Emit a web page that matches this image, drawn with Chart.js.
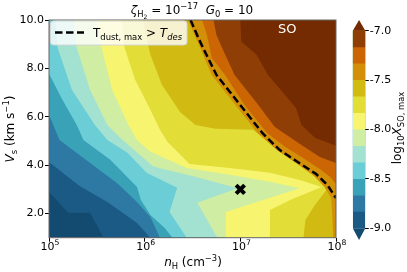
<!DOCTYPE html>
<html>
<head>
<meta charset="utf-8">
<script src="https://cdn.jsdelivr.net/npm/chart.js"></script>
<style>
  body { margin: 0; background: #fff; }
  .wrap { position: relative; width: 407px; height: 272px; }
  canvas { position: absolute; top: 0; }
</style>
</head>
<body>
<div class="wrap">
  <canvas id="map" width="407" height="272" style="left:0"></canvas>
  <canvas id="cbar" width="67" height="272" style="left:340px"></canvas>
</div>
<script>
const FONT = '"DejaVu Sans", sans-serif';

// contour levels of log10 X(SO,max); fills[0] is below -9, fills[13] above -7
const levels = [-9.0, -8.833, -8.667, -8.5, -8.333, -8.167, -8.0, -7.833, -7.667, -7.5, -7.333, -7.167, -7.0];
const fills = ['#134a70', '#1c5a86', '#2d79a4', '#3aa2b6', '#6bcdd6', '#a3e2d1', '#cfeda3',
               '#f7f56f', '#e2dd37', '#d1bb13', '#d48f09', '#cc6605', '#8f3e06', '#742b01'];

// contour lines, points are [log10 nH, Vs]
const c900 = [[5.00,2.90],[5.20,2.03],[5.43,2.03],[5.57,1.00]];
const c883 = [[5.00,4.13],[5.32,3.14],[5.61,2.48],[5.92,1.61],[6.06,1.00]];
const c867 = [[5.00,6.08],[5.11,5.04],[5.43,4.09],[5.71,3.26],[5.92,2.48],[6.06,1.86],[6.16,1.00]];
const c850 = [[5.00,7.78],[5.14,6.70],[5.29,5.66],[5.36,5.04],[5.64,4.22],[5.92,3.10],[5.96,2.56],[6.06,1.94],[6.21,1.40],[6.29,1.00]];
const c833 = [[5.07,10],[5.09,8.85],[5.24,7.11],[5.48,5.66],[5.61,5.04],[5.82,4.51],[6.02,3.68],[6.34,3.06],[6.26,2.06],[6.44,1.00]];
const c817 = [[5.26,10],[5.29,8.85],[5.43,7.11],[5.61,5.66],[5.77,5.04],[6.09,3.94],[6.58,3.47],[6.97,3.04],[6.55,2.44],[6.76,1.00]];
const c800 = [[5.50,10],[5.55,8.85],[5.66,7.11],[5.83,5.66],[5.92,5.04],[6.06,4.55],[6.44,3.88],[6.89,3.60],[7.31,3.31],[7.62,3.04],[6.85,2.06],[6.85,1.00]];
const c783 = [[5.76,10],[5.79,8.85],[5.90,7.53],[6.06,6.29],[6.16,5.46],[6.24,4.96],[6.47,4.05],[6.89,3.88],[7.31,3.68],[7.62,3.39],[7.85,3.10],[7.52,2.56],[7.31,2.15],[7.31,1.00]];
const c767 = [[5.98,10],[6.06,8.56],[6.18,7.32],[6.37,6.20],[6.53,5.66],[6.74,5.50],[7.13,5.46],[7.34,4.84],[7.62,4.01],[7.86,3.31],[7.90,2.97],[7.78,2.35],[7.68,1.73],[7.66,1.00]];
const c750 = [[6.45,10],[6.58,8.85],[6.70,7.73],[6.93,6.58],[7.18,5.33],[7.38,4.63],[7.58,4.09],[7.77,3.55],[7.88,3.10],[7.95,2.64],[7.96,1.94],[7.97,1.00]];
const c733 = [[6.60,10],[6.65,9.39],[6.68,8.85],[6.70,8.44],[6.84,7.73],[7.05,6.45],[7.28,5.33],[7.47,4.75],[7.64,4.34],[7.83,3.84],[7.94,3.51],[8.00,3.22]];
const c717 = [[6.72,10],[6.75,9.39],[6.81,8.84],[6.94,7.73],[7.18,6.53],[7.36,5.58],[7.62,4.88],[7.83,4.34],[8.00,4.09]];
const c700 = [[7.00,10],[7.01,9.11],[7.17,8.56],[7.29,7.73],[7.58,6.37],[7.64,5.66],[7.78,5.13],[8.00,4.80]];

// T_dust,max > T_des boundary
const tdes = [[6.48,10],[6.56,9.27],[6.61,8.85],[6.75,7.73],[6.98,6.58],[7.23,5.33],[7.41,4.63],[7.60,4.13],[7.79,3.64],[7.91,3.18],[8.00,2.64]];

// cross marker
const markLogN = [7.0];
const markVs = [3.0];

const xTicks = [5, 6, 7, 8];
const yTicks = [2, 4, 6, 8, 10];
const cbTicks = [-9.0, -8.5, -8.0, -7.5, -7.0];

const contours = [c900, c883, c867, c850, c833, c817, c800, c783, c767, c750, c733, c717, c700];
const pt = ([lx, v]) => ({x: 10 ** lx, y: v});

// position along the plot border, counter-clockwise from the bottom-left corner
function edgePos([x, y]) {
  if (y <= 1) return x - 5;
  if (x >= 8) return 3 + (y - 1);
  if (y >= 10) return 12 + (8 - x);
  return 15 + (10 - y);
}
const corners = [[3, [8, 1]], [12, [8, 10]], [15, [5, 10]]];
// area above a contour: the line plus the border corners on its high side
function region(line) {
  const a = edgePos(line[line.length - 1]), b = edgePos(line[0]);
  const pts = line.slice();
  corners.forEach(([t, c]) => { if (t > a && t < b) pts.push(c); });
  return pts;
}

const regions = [[[5, 1], [8, 1], [8, 10], [5, 10]]].concat(contours.map(region));

function fontOf(p) {
  return (p.i ? 'italic ' : '') + (p.s || 12) + 'px ' + FONT;
}

// text with sub/superscripts, centred on x
function rich(ctx, parts, x, y, angle) {
  ctx.save();
  ctx.translate(x, y);
  if (angle) ctx.rotate(angle);
  ctx.textAlign = 'left';
  ctx.textBaseline = 'alphabetic';
  let w = 0;
  parts.forEach(p => {
    ctx.font = fontOf(p);
    p.w = ctx.measureText(p.t).width;
    w += p.w;
  });
  let cx = -w / 2;
  parts.forEach(p => {
    ctx.font = fontOf(p);
    ctx.fillText(p.t, cx, p.dy || 0);
    cx += p.w;
  });
  ctx.restore();
}

const decor = {
  id: 'decor',
  afterDatasetsDraw(chart) {
    const {ctx, chartArea: a, scales: {x, y}} = chart;
    ctx.save();
    ctx.fillStyle = '#fff';
    ctx.font = '13px ' + FONT;
    ctx.textAlign = 'center';
    ctx.textBaseline = 'middle';
    ctx.fillText('SO', x.getPixelForValue(10 ** 7.49), y.getPixelForValue(9.6));

    ctx.strokeStyle = '#666';
    ctx.lineWidth = 1;
    ctx.strokeRect(a.left, a.top, a.right - a.left, a.bottom - a.top);

    // legend
    const L = 50.5, T = 21, R = 187, B = 45, r = 3;
    ctx.beginPath();
    ctx.moveTo(L + r, T);
    ctx.arcTo(R, T, R, B, r);
    ctx.arcTo(R, B, L, B, r);
    ctx.arcTo(L, B, L, T, r);
    ctx.arcTo(L, T, R, T, r);
    ctx.closePath();
    ctx.fillStyle = 'rgba(255,255,255,0.8)';
    ctx.fill();
    ctx.strokeStyle = '#d6d6d6';
    ctx.stroke();
    ctx.beginPath();
    ctx.setLineDash([7.5, 3.5]);
    ctx.lineWidth = 2.5;
    ctx.strokeStyle = '#000';
    ctx.moveTo(55, 32.5);
    ctx.lineTo(84, 32.5);
    ctx.stroke();
    ctx.setLineDash([]);
    ctx.fillStyle = '#000';
    const leg = [{t: 'T'}, {t: 'dust, max', s: 8.4, dy: 3}, {t: ' > '}, {t: 'T', i: 1}, {t: 'des', s: 8.4, dy: 3, i: 1}];
    let w = 0;
    leg.forEach(p => { ctx.font = fontOf(p); w += ctx.measureText(p.t).width; });
    rich(ctx, leg, 93 + w / 2, 37);
    ctx.restore();
  },
  afterDraw(chart) {
    const {ctx, scales: {x}} = chart;
    ctx.save();
    ctx.fillStyle = '#000';
    xTicks.forEach(e => {
      rich(ctx, [{t: '10', s: 11}, {t: String(e), s: 7.7, dy: -5}], x.getPixelForValue(10 ** e) + 1, 250);
    });
    rich(ctx, [{t: '\u03b6', i: 1}, {t: 'H', s: 8.4, dy: 2.5}, {t: '2', s: 6, dy: 4.5}, {t: ' = 10'},
               {t: '\u221217', s: 8.4, dy: -5}, {t: '  '}, {t: 'G', i: 1}, {t: '0', s: 8.4, dy: 2.5}, {t: ' = 10'}], 192, 14);
    rich(ctx, [{t: 'n', i: 1}, {t: 'H', s: 8.4, dy: 2.5}, {t: ' (cm'}, {t: '\u22123', s: 8.4, dy: -5}, {t: ')'}], 193, 266);
    rich(ctx, [{t: 'V', i: 1}, {t: 's', s: 8.4, dy: 2.5}, {t: ' (km s'}, {t: '\u22121', s: 8.4, dy: -5}, {t: ')'}], 14, 129, -Math.PI / 2);
    rich(ctx, [{t: 'log'}, {t: '10', s: 8.4, dy: 2.5}, {t: 'X', i: 1}, {t: 'SO, max', s: 8.4, dy: 2.5}], 401, 128, -Math.PI / 2);
    ctx.restore();
  }
};

const tickFont = {family: FONT, size: 11};

new Chart(document.getElementById('map'), {
  type: 'scatter',
  data: {
    datasets: regions.map((r, k) => ({
      data: r.map(pt),
      showLine: true,
      fill: 'shape',
      backgroundColor: fills[k],
      borderWidth: 0,
      pointRadius: 0,
      order: 40 - k,
    })).concat([
      {
        data: tdes.map(pt),
        showLine: true,
        fill: false,
        borderColor: '#000',
        borderWidth: 2.5,
        borderDash: [7.5, 3.5],
        pointRadius: 0,
        order: 2,
      },
      {
        data: markLogN.map((n, i) => pt([n, markVs[i]])),
        showLine: false,
        pointStyle: 'crossRot',
        pointRadius: 6,
        pointBorderWidth: 4,
        pointBorderColor: '#000',
        pointBackgroundColor: '#000',
        order: 1,
      },
    ]),
  },
  options: {
    responsive: false,
    devicePixelRatio: 1,
    animation: false,
    events: [],
    layout: {padding: {top: 20, right: 71, bottom: 0, left: 0}},
    plugins: {legend: {display: false}, tooltip: {enabled: false}},
    scales: {
      x: {
        type: 'logarithmic',
        min: 1e5,
        max: 1e8,
        afterBuildTicks: s => { s.ticks = xTicks.map(e => ({value: 10 ** e})); },
        afterFit: s => { s.height = 34.3; },
        // labels are drawn with superscripts in the decor plugin
        ticks: {callback: () => '', font: tickFont, maxRotation: 0, autoSkip: false},
        grid: {drawOnChartArea: false, tickLength: 4, color: '#000'},
        border: {display: false},
      },
      y: {
        type: 'linear',
        min: 1,
        max: 10,
        afterBuildTicks: s => { s.ticks = yTicks.map(v => ({value: v})); },
        afterFit: s => { s.width = 49; },
        ticks: {callback: v => v.toFixed(1), font: tickFont, color: '#000', padding: 1},
        grid: {drawOnChartArea: false, tickLength: 4, color: '#000'},
        border: {display: false},
      },
    },
  },
  plugins: [decor],
});

// colorbar: bands stacked from each level up to -7, with triangular extensions
const cbMin = -9.118, cbMax = -6.892;
const cbShapes = [[[0, -9], [1, -9], [0.5, cbMin]]]
  .concat(levels.slice(0, 12).map(l => [[0, l], [1, l], [1, -7], [0, -7]]))
  .concat([[[0, -7], [1, -7], [0.5, cbMax]]]);

new Chart(document.getElementById('cbar'), {
  type: 'scatter',
  data: {
    datasets: cbShapes.map((s, k) => ({
      data: s.map(([x, y]) => ({x, y})),
      showLine: true,
      fill: 'shape',
      backgroundColor: fills[k],
      borderWidth: 0,
      pointRadius: 0,
      order: 40 - k,
    })),
  },
  options: {
    responsive: false,
    devicePixelRatio: 1,
    animation: false,
    events: [],
    layout: {padding: {top: 20, right: 0, bottom: 32, left: 12.8}},
    plugins: {legend: {display: false}, tooltip: {enabled: false}},
    scales: {
      x: {type: 'linear', min: 0, max: 1, display: false},
      y: {
        type: 'linear',
        position: 'right',
        min: cbMin,
        max: cbMax,
        afterBuildTicks: s => { s.ticks = cbTicks.map(v => ({value: v})); },
        afterFit: s => { s.width = 41.7; },
        ticks: {callback: v => v.toFixed(1), font: tickFont, color: '#000', padding: 1},
        grid: {drawOnChartArea: false, tickLength: 3.5, color: '#000'},
        border: {display: false},
      },
    },
  },
});
</script>
</body>
</html>
